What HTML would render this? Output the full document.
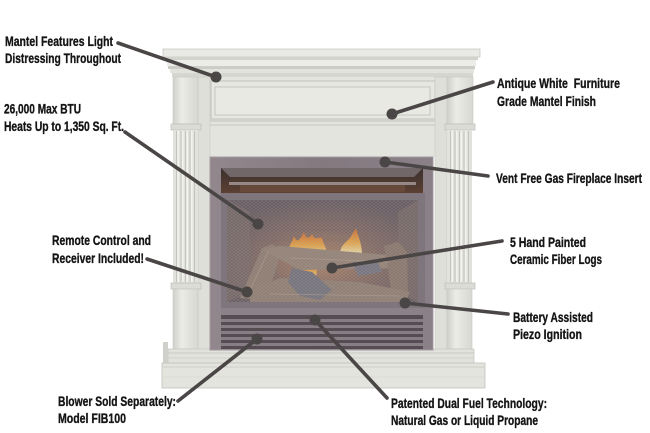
<!DOCTYPE html>
<html><head><meta charset="utf-8"><style>
html,body{margin:0;padding:0;background:#fff;width:650px;height:433px;overflow:hidden}
svg{display:block}
text{font-family:"Liberation Sans",Arial,sans-serif;font-weight:bold;font-size:14px;fill:#141414;stroke:#141414;stroke-width:0.35px}
</style></head><body>
<svg xmlns="http://www.w3.org/2000/svg" width="650" height="433" viewBox="0 0 650 433">
<defs>
<linearGradient id="col" x1="0" x2="1"><stop offset="0" stop-color="#d0d0ca"/><stop offset="0.35" stop-color="#ebebe7"/><stop offset="1" stop-color="#d8d8d2"/></linearGradient>
<linearGradient id="frame" x1="0" x2="1"><stop offset="0" stop-color="#91878d"/><stop offset="0.5" stop-color="#83797f"/><stop offset="1" stop-color="#8a8087"/></linearGradient>
<radialGradient id="glow" cx="0.5" cy="0.6" r="0.62"><stop offset="0" stop-color="#b88866"/><stop offset="0.5" stop-color="#866c62"/><stop offset="1" stop-color="#655a60"/></radialGradient>
<linearGradient id="hood" x1="0" y1="0" x2="0" y2="1"><stop offset="0" stop-color="#3a302e"/><stop offset="1" stop-color="#5c4032"/></linearGradient>
<linearGradient id="flame" x1="0" y1="1" x2="0" y2="0"><stop offset="0" stop-color="#fff3b8"/><stop offset="0.45" stop-color="#f7b045"/><stop offset="1" stop-color="#e0702a"/></linearGradient>
<pattern id="mesh" width="4" height="3" patternUnits="userSpaceOnUse"><path d="M0 1.5 L2 0 L4 1.5 L2 3 Z" fill="none" stroke="#b4acb2" stroke-width="0.5"/></pattern>
</defs>

<!-- top shelf / cornice -->
<rect x="163" y="49" width="317" height="8" fill="#e9e9e5" stroke="#c9c9c3" stroke-width="0.8"/>
<rect x="165" y="57" width="313" height="3" fill="#d3d3cd"/>
<rect x="167" y="60" width="309" height="6" fill="#ececE8"/>
<rect x="168" y="66" width="307" height="3" fill="#cdcdc7"/>
<rect x="170" y="69" width="304" height="4" fill="#e3e3dd"/>
<rect x="172" y="73" width="301" height="4" fill="#d6d6d0"/>

<!-- frieze -->
<rect x="198" y="77" width="249" height="80" fill="#e4e4df"/>
<rect x="211" y="81" width="224" height="38" fill="#e7e7e2" stroke="#c2c2bc" stroke-width="1"/>
<rect x="215" y="87" width="215" height="28" fill="#e9e9e4" stroke="#c6c6c0" stroke-width="1"/>
<rect x="210" y="119" width="225" height="3" fill="#d2d2cc"/>
<line x1="200" y1="125" x2="445" y2="125" stroke="#c8c8c2" stroke-width="1"/>

<!-- inner strips -->
<rect x="198" y="77" width="12" height="273" fill="#dfdfda" stroke="#cacac4" stroke-width="0.6"/>
<rect x="435" y="77" width="12" height="273" fill="#dfdfda" stroke="#cacac4" stroke-width="0.6"/>

<!-- left column -->
<rect x="173" y="77" width="25" height="47" fill="url(#col)" stroke="#c8c8c2" stroke-width="0.6"/>
<rect x="171" y="124" width="30" height="6" fill="#dcdcd6" stroke="#bdbdb7" stroke-width="0.7"/>
<rect x="173" y="130" width="25" height="153" fill="#e2e2dd"/>
<g fill="#c4c4be"><rect x="176" y="131" width="1" height="151"/><rect x="180.5" y="131" width="1" height="151"/><rect x="185" y="131" width="1" height="151"/><rect x="189.5" y="131" width="1" height="151"/><rect x="194" y="131" width="1" height="151"/></g>
<g fill="#f2f2ef"><rect x="177.5" y="131" width="1.5" height="151"/><rect x="182" y="131" width="1.5" height="151"/><rect x="186.5" y="131" width="1.5" height="151"/><rect x="191" y="131" width="1.5" height="151"/></g>
<rect x="171" y="283" width="30" height="6" fill="#dcdcd6" stroke="#bdbdb7" stroke-width="0.7"/>
<rect x="173" y="289" width="25" height="61" fill="url(#col)" stroke="#c8c8c2" stroke-width="0.6"/>

<!-- right column -->
<rect x="447" y="77" width="26" height="47" fill="url(#col)" stroke="#c8c8c2" stroke-width="0.6"/>
<rect x="445" y="124" width="30" height="6" fill="#dcdcd6" stroke="#bdbdb7" stroke-width="0.7"/>
<rect x="447" y="130" width="25" height="153" fill="#e2e2dd"/>
<g fill="#c4c4be"><rect x="450" y="131" width="1" height="151"/><rect x="454.5" y="131" width="1" height="151"/><rect x="459" y="131" width="1" height="151"/><rect x="463.5" y="131" width="1" height="151"/><rect x="468" y="131" width="1" height="151"/></g>
<g fill="#f2f2ef"><rect x="451.5" y="131" width="1.5" height="151"/><rect x="456" y="131" width="1.5" height="151"/><rect x="460.5" y="131" width="1.5" height="151"/><rect x="465" y="131" width="1.5" height="151"/></g>
<rect x="445" y="283" width="30" height="6" fill="#dcdcd6" stroke="#bdbdb7" stroke-width="0.7"/>
<rect x="447" y="289" width="25" height="61" fill="url(#col)" stroke="#c8c8c2" stroke-width="0.6"/>

<!-- base -->
<rect x="168" y="349" width="306" height="14" fill="#e2e2dd" stroke="#c4c4be" stroke-width="0.7"/>
<line x1="168" y1="353" x2="474" y2="353" stroke="#cbcbc5" stroke-width="1"/>
<line x1="168" y1="358" x2="474" y2="358" stroke="#d0d0ca" stroke-width="1"/>
<polygon points="163,342 168,342 168,363 163,366" fill="#d0d0ca"/>
<rect x="162" y="363" width="323" height="25" fill="#e4e4df" stroke="#c2c2bc" stroke-width="0.8"/>
<line x1="162" y1="367" x2="485" y2="367" stroke="#cfcfc9" stroke-width="1"/>
<line x1="162" y1="377" x2="485" y2="377" stroke="#d8d8d2" stroke-width="0.8"/>

<!-- insert frame -->
<rect x="210" y="157" width="223" height="193" fill="url(#frame)"/>
<rect x="210" y="157" width="223" height="193" fill="none" stroke="#a39aa0" stroke-width="1"/>
<!-- hood -->
<rect x="221" y="168" width="202" height="25" fill="url(#hood)"/>
<polygon points="221,168 423,168 414,177 230,177" fill="#716769"/>
<rect x="229" y="182" width="187" height="3" fill="#968886"/>
<rect x="240" y="185" width="165" height="7" fill="#6a4c3c" opacity="0.8"/>
<!-- screen frame -->
<rect x="221" y="193" width="204" height="115" fill="#7f757c"/>
<rect x="227" y="200" width="191" height="102" fill="url(#glow)"/>
<polygon points="227,200 250,212 250,292 227,302" fill="#7e6e68" opacity="0.7"/>
<polygon points="418,200 398,212 398,292 418,302" fill="#7e6e68" opacity="0.7"/>
<g stroke="#6e605e" stroke-width="0.6" opacity="0.6"><line x1="250" y1="220" x2="398" y2="220"/><line x1="250" y1="230" x2="398" y2="230"/><line x1="250" y1="240" x2="398" y2="240"/></g>
<!-- flames -->
<path d="M288,257 C286,248 292,244 294,236 C297,244 300,240 304,232 C306,240 310,238 312,234 C315,242 318,236 322,238 C324,246 328,250 327,257 Z" fill="url(#flame)"/>
<path d="M340,254 C340,246 346,242 350,238 C352,234 354,232 356,228 C358,236 362,244 362,254 Z" fill="url(#flame)"/>
<path d="M298,278 C298,270 302,266 304,258 C308,266 312,262 316,262 C318,270 316,276 315,282 Z" fill="url(#flame)"/>
<!-- logs -->
<polygon points="240,298 262,248 272,244 282,250 266,300" fill="#968372"/>
<polygon points="262,250 280,246 400,256 405,268 300,270" fill="#9c8978"/>
<polygon points="384,246 398,242 407,252 408,300 392,300 388,268" fill="#8f7c6c"/>
<polygon points="250,290 280,278 360,282 410,292 405,302 250,302" fill="#978474"/>
<polygon points="292,268 312,272 332,290 320,300 300,296 288,282" fill="#77767f"/>
<polygon points="352,262 378,262 382,272 358,276" fill="#7a7a84"/>
<g stroke="#bcab98" stroke-width="0.8" opacity="0.7"><line x1="250" y1="290" x2="268" y2="252"/><line x1="290" y1="258" x2="390" y2="262"/><line x1="270" y1="294" x2="400" y2="296"/></g>
<rect x="227" y="200" width="191" height="102" fill="url(#mesh)" opacity="0.45"/>
<rect x="227" y="200" width="191" height="102" fill="#6e646c" opacity="0.15"/>
<!-- bottom bar & louvres -->
<rect x="221" y="308" width="202" height="7" fill="#8b8188"/>
<rect x="221" y="315" width="202" height="34" fill="#564d53"/>
<g fill="#877d84"><rect x="221" y="319" width="202" height="3"/><rect x="221" y="325" width="202" height="3"/><rect x="221" y="331" width="202" height="3"/><rect x="221" y="337" width="202" height="3"/><rect x="221" y="343" width="202" height="3"/></g>

<!-- leader lines -->
<g stroke="#4b4646" stroke-width="3.6" stroke-linecap="round">
<line x1="118" y1="43" x2="216" y2="77"/>
<line x1="125" y1="132" x2="258" y2="224"/>
<line x1="493" y1="82" x2="392" y2="114"/>
<line x1="488" y1="176" x2="385" y2="162"/>
<line x1="502" y1="241" x2="332" y2="268"/>
<line x1="508" y1="314" x2="405" y2="303"/>
<line x1="147" y1="259" x2="247" y2="292"/>
<line x1="178" y1="401" x2="257" y2="339"/>
<line x1="387" y1="398" x2="315" y2="320"/>
</g>
<g fill="#4b4646">
<circle cx="216" cy="77" r="5.5"/>
<circle cx="258" cy="224" r="5.5"/>
<circle cx="392" cy="114" r="5.5"/>
<circle cx="385" cy="162" r="5.5"/>
<circle cx="332" cy="268" r="5.5"/>
<circle cx="405" cy="303" r="5.5"/>
<circle cx="247" cy="292" r="5.5"/>
<circle cx="257" cy="339" r="5.5"/>
<circle cx="315" cy="320" r="5.5"/>
</g>

<!-- labels -->
<text x="5" y="46" textLength="108" lengthAdjust="spacingAndGlyphs">Mantel Features Light</text>
<text x="5" y="63" textLength="116" lengthAdjust="spacingAndGlyphs">Distressing Throughout</text>
<text x="4" y="113.5" textLength="77" lengthAdjust="spacingAndGlyphs">26,000 Max BTU</text>
<text x="4" y="131" textLength="120" lengthAdjust="spacingAndGlyphs">Heats Up to 1,350 Sq. Ft.</text>
<text x="497" y="88" textLength="123" lengthAdjust="spacingAndGlyphs">Antique White&#160; Furniture</text>
<text x="497" y="106" textLength="99" lengthAdjust="spacingAndGlyphs">Grade Mantel Finish</text>
<text x="496" y="183" textLength="146" lengthAdjust="spacingAndGlyphs">Vent Free Gas Fireplace Insert</text>
<text x="510" y="247" textLength="76" lengthAdjust="spacingAndGlyphs">5 Hand Painted</text>
<text x="510" y="264" textLength="92" lengthAdjust="spacingAndGlyphs">Ceramic Fiber Logs</text>
<text x="513" y="322" textLength="80" lengthAdjust="spacingAndGlyphs">Battery Assisted</text>
<text x="513" y="339" textLength="69" lengthAdjust="spacingAndGlyphs">Piezo Ignition</text>
<text x="52" y="245" textLength="99" lengthAdjust="spacingAndGlyphs">Remote Control and</text>
<text x="52" y="263" textLength="92" lengthAdjust="spacingAndGlyphs">Receiver Included!</text>
<text x="58" y="406" textLength="118" lengthAdjust="spacingAndGlyphs">Blower Sold Separately:</text>
<text x="58" y="423" textLength="68" lengthAdjust="spacingAndGlyphs">Model FIB100</text>
<text x="391" y="408" textLength="156" lengthAdjust="spacingAndGlyphs">Patented Dual Fuel Technology:</text>
<text x="391" y="425" textLength="147" lengthAdjust="spacingAndGlyphs">Natural Gas or Liquid Propane</text>
</svg>
</body></html>
